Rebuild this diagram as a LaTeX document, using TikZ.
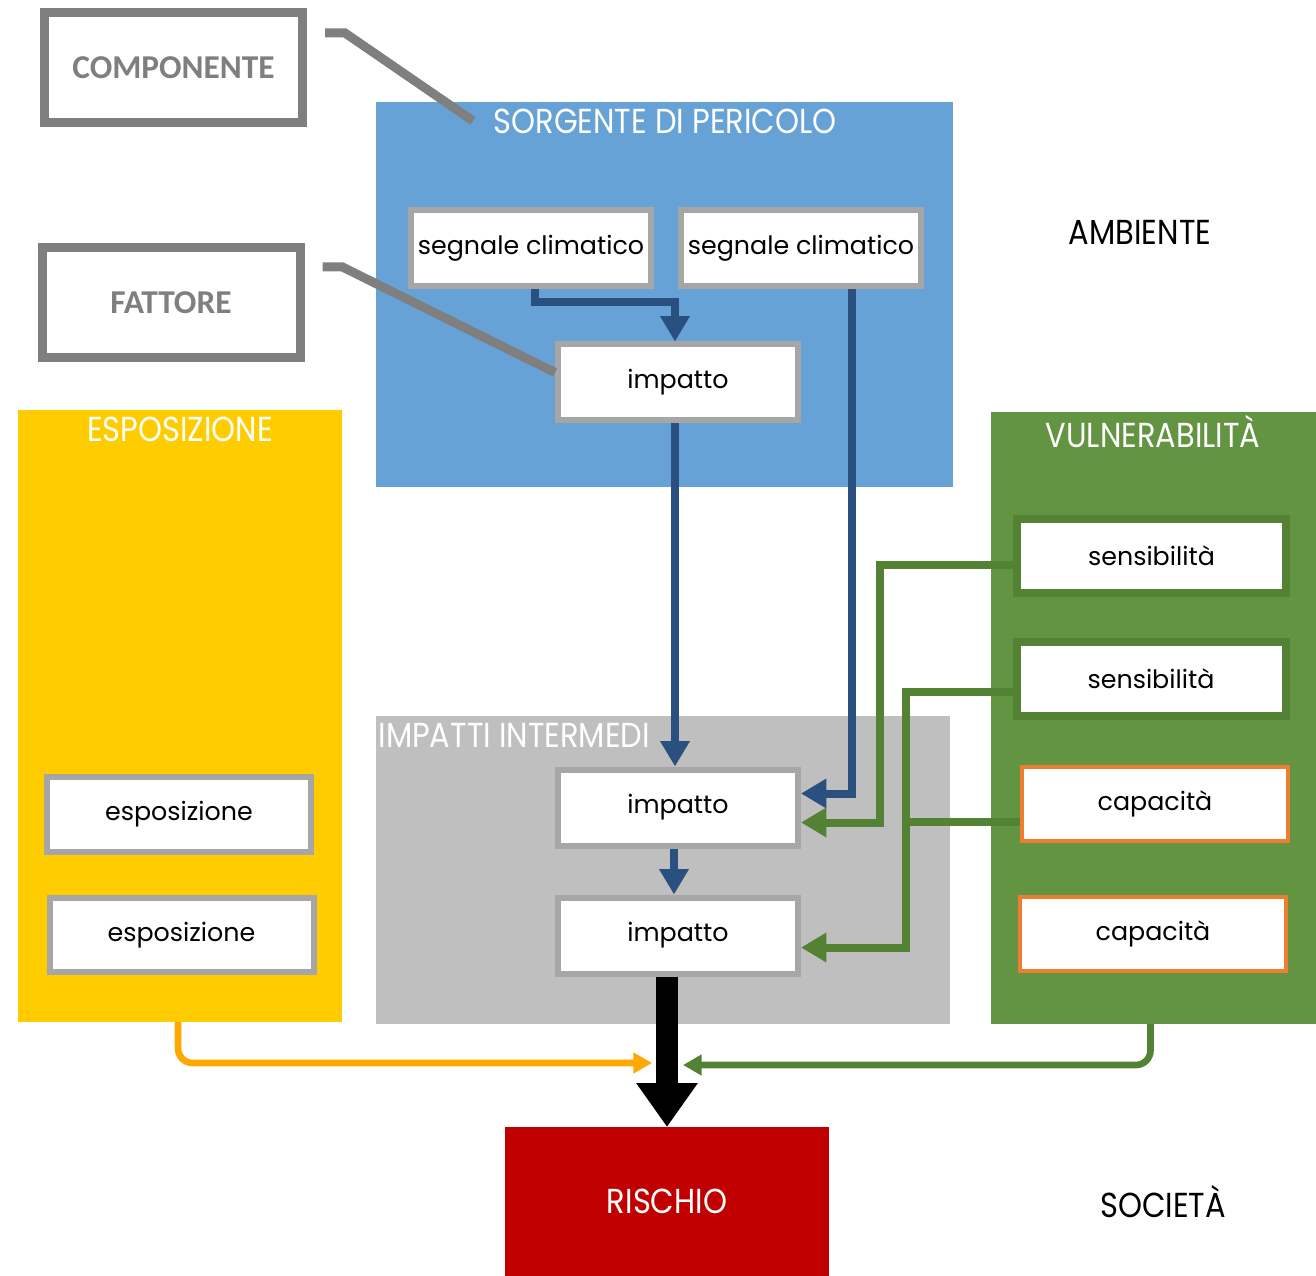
\documentclass[tikz,border=0pt]{standalone}
\usepackage{fontspec}
\setmainfont{Poppins}
\newfontfamily\headfont[FakeStretch=0.88]{Poppins}
\newfontfamily\keyfont{Carlito}
\usetikzlibrary{arrows.meta,calc}

\definecolor{skyblue}{HTML}{67A2D6}
\definecolor{navyline}{HTML}{2A5080}
\definecolor{sunyellow}{HTML}{FFCC00}
\definecolor{leafgreen}{HTML}{629441}
\definecolor{darkleaf}{HTML}{548235}
\definecolor{greypanel}{HTML}{BFBFBF}
\definecolor{greyedge}{HTML}{A6A6A6}
\definecolor{keygrey}{HTML}{7F7F7F}
\definecolor{capedge}{HTML}{ED7D31}
\definecolor{amber}{HTML}{FFA800}
\definecolor{riskred}{HTML}{C00000}

\tikzset{every picture/.style={line width=0.75pt}}
\tikzset{
  panel/.style={inner sep=0pt, outer sep=0pt},
  paneltitle/.style={inner sep=0pt, text=white, font=\headfont\fontsize{26}{30}\selectfont},
  keybox/.style={draw=keygrey, line width=6.75pt, fill=white, minimum width=193.5pt, minimum height=82.5pt, text=keygrey, font=\keyfont\bfseries\fontsize{25}{30}\selectfont},
  keyline/.style={draw=keygrey, line width=6.75pt},
  itembox/.style={draw=greyedge, line width=4.5pt, fill=white, minimum width=180pt, minimum height=57pt, font=\fontsize{19}{22}\selectfont},
  expobox/.style={itembox, minimum width=198pt, minimum height=56pt},
  sensbox/.style={itembox, draw=darkleaf, line width=6pt, minimum width=201.75pt, minimum height=55.5pt},
  capbox/.style={itembox, draw=capedge, line width=3pt, minimum width=199.5pt, minimum height=55.5pt},
  bluearrow/.style={draw=navyline, line width=6pt, -{Triangle[length=19pt,width=21pt]}},
  greenarrow/.style={draw=darkleaf, line width=6pt, -{Triangle[length=19pt,width=21pt]}},
  sidetext/.style={font=\headfont\fontsize{26}{30}\selectfont}
}

\begin{document}
\begin{tikzpicture}[x=0.75pt,y=0.75pt,yscale=-1,xscale=1]
\useasboundingbox (0,0) rectangle (1316,1276);

% panels
\node (sorg) [panel, fill=skyblue, minimum width=432.75pt, minimum height=288.75pt] at (664.5,294.5) {};
\node (expo) [panel, fill=sunyellow, minimum width=243pt, minimum height=459pt] at (180,716) {};
\node (vuln) [panel, fill=leafgreen, minimum width=243.75pt, minimum height=459pt] at (1153.5,718) {};
\node (inter) [panel, fill=greypanel, minimum width=430.5pt, minimum height=231pt] at (663,870) {};
\node (risk) [panel, fill=riskred, minimum width=243pt, minimum height=111.75pt, text=white, font=\headfont\fontsize{26}{30}\selectfont] at (667,1201.5) {RISCHIO};

\node (sorgtitle) [paneltitle] at (665,121) {SORGENTE DI PERICOLO};
\node (expotitle) [paneltitle] at (180,429) {ESPOSIZIONE};
\node (vulntitle) [paneltitle] at (1153,432) {VULNERABILITÀ};
\node (intertitle) [paneltitle, anchor=west] at (378,735) {IMPATTI INTERMEDI};

\node (amb) [sidetext] at (1140,232) {AMBIENTE};
\node (soc) [sidetext] at (1163,1202) {SOCIETÀ};

% legend
\node (comp) [keybox] at (173.5,67.5) {COMPONENTE};
\node (fatt) [keybox] at (171,302.5) {FATTORE};

% boxes
\node (seg1) [itembox] at (531,248) {segnale climatico};
\node (seg2) [itembox] at (801,248) {segnale climatico};
\node (impA) [itembox] at (678,382.5) {impatto};
\node (impB) [itembox] at (678,807.5) {impatto};
\node (impC) [itembox] at (678,935.5) {impatto};
\node (espo1) [expobox] at (179,814.5) {esposizione};
\node (espo2) [expobox] at (181.5,935) {esposizione};
\node (sens1) [sensbox] at (1151.5,556) {sensibilità};
\node (sens2) [sensbox] at (1151,679) {sensibilità};
\node (cap1) [capbox] at (1155,804) {capacità};
\node (cap2) [capbox] at (1153,934) {capacità};

% legend pointers
\draw [keyline] ($(comp.north east)+(18,25)$) -- ++(20,0) -- ($(sorgtitle.west)+(-20,0)$);
\draw [keyline] ($(fatt.north east)+(18,24)$) -- ++(20,0) -- ($(impA.west)+(0,-10)$);

% hazard chain
\draw [bluearrow] ($(seg1.south)+(4,0)$) |- ($(impA.north)+(-3,-39)$) -- ($(impA.north)+(-3,0)$);
\draw [bluearrow] ($(seg2.south)+(51,0)$) |- ($(impB.east)+(0,-14)$);
\draw [bluearrow] ($(impA.south)+(-3,0)$) -- ($(impB.north)+(-3,0)$);
\draw [bluearrow] ($(impB.south)+(-4,0)$) -- ($(impC.north)+(-4,0)$);

% vulnerability feeds
\draw [greenarrow] ($(sens1.west)+(0,9)$) -- ++(-133,0) |- ($(impB.east)+(0,15)$);
\draw [greenarrow] ($(sens2.west)+(0,13)$) -- ++(-107,0) |- ($(impC.east)+(0,12)$);
\draw [draw=darkleaf, line width=6pt] ($(cap1.west)+(0,18)$) -- ++(-114,0);

% towards risk
\draw [draw=black, line width=16pt, -{Triangle[length=33pt,width=44pt]}] ($(impC.south)+(-11,0)$) -- (risk.north);
\draw [draw=amber, line width=5pt, rounded corners=11pt, -{Triangle[length=14pt,width=15pt]}] ($(expo.south)+(-2,0)$) |- ($(risk.north)+(-15,-64)$);
\draw [draw=darkleaf, line width=5pt, rounded corners=11pt, -{Triangle[length=14pt,width=15pt]}] ($(vuln.south)+(-3,0)$) |- ($(risk.north)+(16,-62)$);

\end{tikzpicture}
\end{document}
